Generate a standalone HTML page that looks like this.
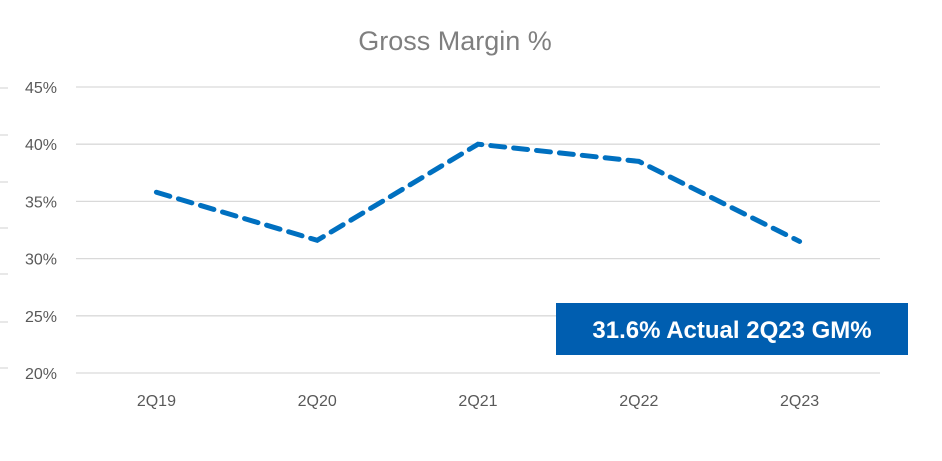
<!DOCTYPE html>
<html><head><meta charset="utf-8"><style>
body{margin:0;background:#fff;width:942px;height:456px;overflow:hidden;font-family:"Liberation Sans",sans-serif;}
</style></head><body>
<svg width="942" height="456">
<text x="455" y="50" text-anchor="middle" font-size="27" fill="#7f7f7f">Gross Margin %</text>
<g id="grid"></g><g id="ticks"></g><g id="xlabels"></g>
<path id="line" fill="none" stroke="#0070C0" stroke-width="5" stroke-dasharray="14 9" stroke-linecap="round"/>
<rect x="556" y="303" width="352" height="52" fill="#005EB0"/>
<text x="732" y="338" text-anchor="middle" font-size="24" font-weight="bold" fill="#fff">31.6% Actual 2Q23 GM%</text>
</svg>
<script>
const categories=["2Q19","2Q20","2Q21","2Q22","2Q23"];
const values=[35.8,31.6,40.0,38.5,31.5];
const yTicks=[20,25,30,35,40,45];
const ns="http://www.w3.org/2000/svg";
const x0=76,x1=880,yTop=87,yBot=373,yMin=20,yMax=45;
function xs(i){return x0+(x1-x0)/categories.length*(i+0.5);}
function ys(v){return yBot-(v-yMin)/(yMax-yMin)*(yBot-yTop);}
const grid=document.getElementById('grid');
yTicks.forEach(t=>{
 const l=document.createElementNS(ns,'line');
 l.setAttribute('x1',x0);l.setAttribute('x2',x1);l.setAttribute('y1',ys(t));l.setAttribute('y2',ys(t));
 l.setAttribute('stroke','#d9d9d9');l.setAttribute('stroke-width','1.3');
 
 
 grid.appendChild(l);
 const tx=document.createElementNS(ns,'text');
 tx.setAttribute('x',57);tx.setAttribute('y',ys(t)+6);tx.setAttribute('text-anchor','end');
 tx.setAttribute('font-size','16');tx.setAttribute('fill','#595959');tx.textContent=t+'%';
 
 
 grid.appendChild(tx);
});
const tk=document.getElementById('ticks');
[88,135,182,228,274,322,368].forEach(y=>{
 const l=document.createElementNS(ns,'line');
 l.setAttribute('x1',0);l.setAttribute('x2',8);l.setAttribute('y1',y);l.setAttribute('y2',y);
 l.setAttribute('stroke','#d0d0d0');l.setAttribute('stroke-width','1');
 
 
 tk.appendChild(l);
});
const xl=document.getElementById('xlabels');
categories.forEach((c,i)=>{
 const tx=document.createElementNS(ns,'text');
 tx.setAttribute('x',xs(i));tx.setAttribute('y',406);tx.setAttribute('text-anchor','middle');
 tx.setAttribute('font-size','16');tx.setAttribute('fill','#595959');tx.textContent=c;
 
 
 xl.appendChild(tx);
});
document.getElementById('line').setAttribute('d',values.map((v,i)=>(i?'L':'M')+xs(i)+' '+ys(v)).join(' '));
</script>
</body></html>
